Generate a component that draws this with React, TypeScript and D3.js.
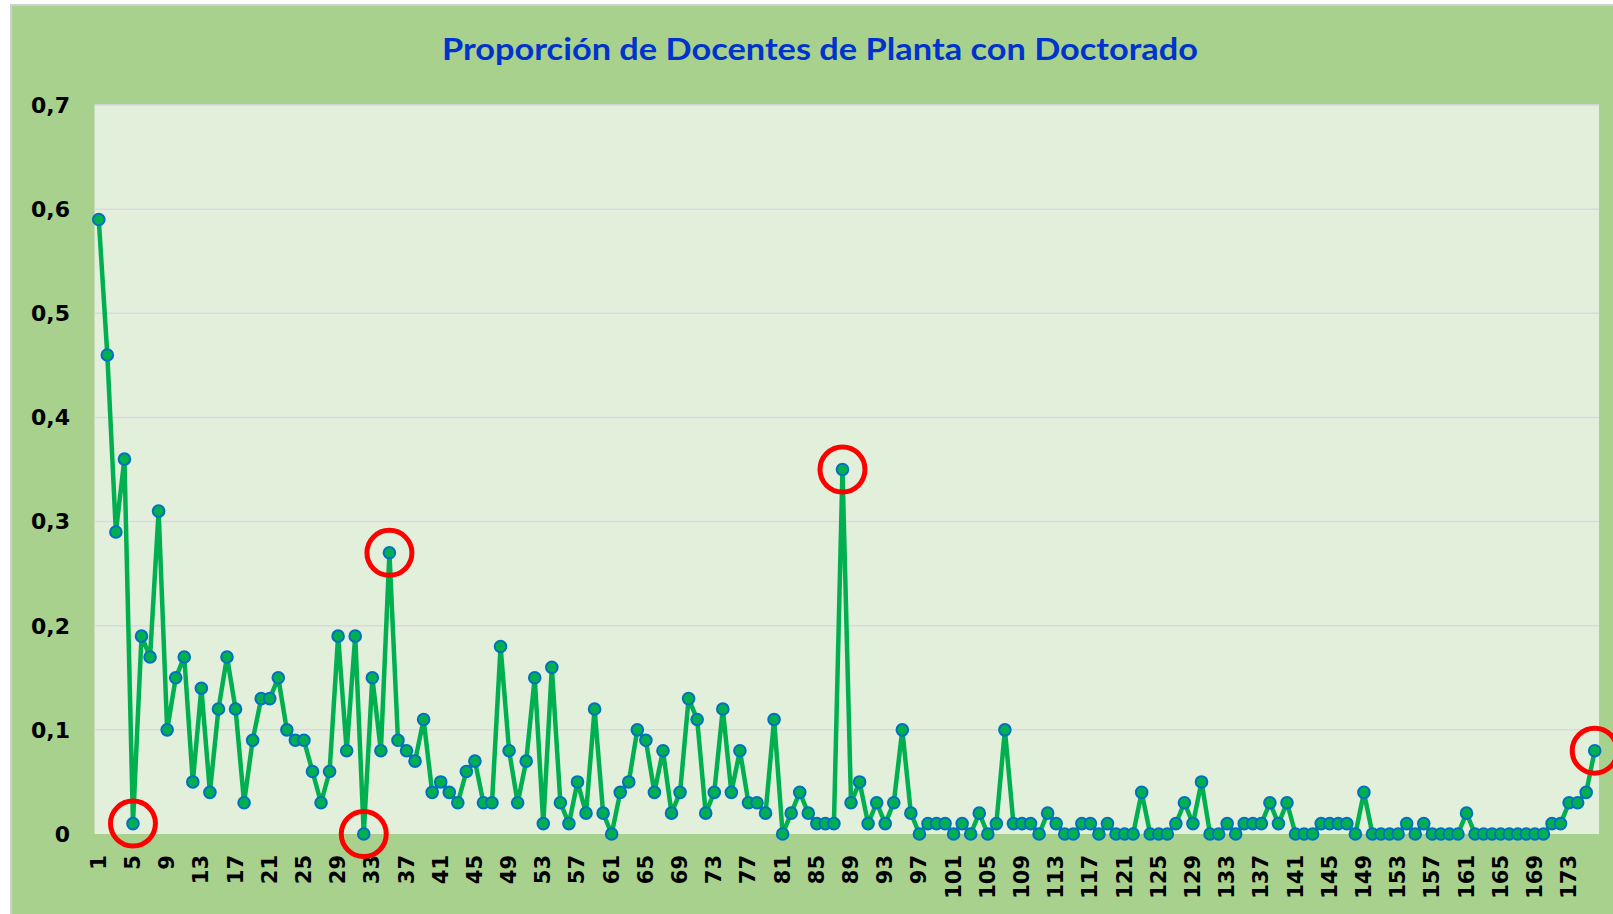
import React from "react";
import * as d3 from "d3";

const TITLE = "Proporción de Docentes de Planta con Doctorado";

const values: number[] = [
  0.59, 0.46, 0.29, 0.36, 0.01, 0.19, 0.17, 0.31, 0.10, 0.15,
  0.17, 0.05, 0.14, 0.04, 0.12, 0.17, 0.12, 0.03, 0.09, 0.13,
  0.13, 0.15, 0.10, 0.09, 0.09, 0.06, 0.03, 0.06, 0.19, 0.08,
  0.19, 0.00, 0.15, 0.08, 0.27, 0.09, 0.08, 0.07, 0.11, 0.04,
  0.05, 0.04, 0.03, 0.06, 0.07, 0.03, 0.03, 0.18, 0.08, 0.03,
  0.07, 0.15, 0.01, 0.16, 0.03, 0.01, 0.05, 0.02, 0.12, 0.02,
  0.00, 0.04, 0.05, 0.10, 0.09, 0.04, 0.08, 0.02, 0.04, 0.13,
  0.11, 0.02, 0.04, 0.12, 0.04, 0.08, 0.03, 0.03, 0.02, 0.11,
  0.00, 0.02, 0.04, 0.02, 0.01, 0.01, 0.01, 0.35, 0.03, 0.05,
  0.01, 0.03, 0.01, 0.03, 0.10, 0.02, 0.00, 0.01, 0.01, 0.01,
  0.00, 0.01, 0.00, 0.02, 0.00, 0.01, 0.10, 0.01, 0.01, 0.01,
  0.00, 0.02, 0.01, 0.00, 0.00, 0.01, 0.01, 0.00, 0.01, 0.00,
  0.00, 0.00, 0.04, 0.00, 0.00, 0.00, 0.01, 0.03, 0.01, 0.05,
  0.00, 0.00, 0.01, 0.00, 0.01, 0.01, 0.01, 0.03, 0.01, 0.03,
  0.00, 0.00, 0.00, 0.01, 0.01, 0.01, 0.01, 0.00, 0.04, 0.00,
  0.00, 0.00, 0.00, 0.01, 0.00, 0.01, 0.00, 0.00, 0.00, 0.00,
  0.02, 0.00, 0.00, 0.00, 0.00, 0.00, 0.00, 0.00, 0.00, 0.00,
  0.01, 0.01, 0.03, 0.03, 0.04, 0.08,
];

const categories: number[] = values.map((_, i) => i + 1);
const xTickLabels: number[] = categories.filter((c) => (c - 1) % 4 === 0);
const yTicks: number[] = [0, 0.1, 0.2, 0.3, 0.4, 0.5, 0.6, 0.7];
const highlighted: number[] = [5, 32, 35, 88, 176];

const W = 1613;
const H = 914;
const plot = { left: 94.5, right: 1599, top: 105, bottom: 834 };

export default function App() {
  const x = d3
    .scaleBand<number>()
    .domain(categories)
    .range([plot.left, plot.right]);
  const cx = (c: number) => (x(c) as number) + x.bandwidth() / 2;
  const y = d3.scaleLinear().domain([0, 0.7]).range([plot.bottom, plot.top]);
  const line = d3
    .line<number>()
    .x((_, i) => cx(categories[i]))
    .y((d) => y(d));
  const fmt = (v: number) => (v === 0 ? "0" : v.toFixed(1).replace(".", ","));

  return (
    <svg
      width={W}
      height={H}
      style={{ position: "absolute", left: 0, top: 0, display: "block" }}
    >
      <rect x={0} y={0} width={W} height={H} fill="#ffffff" />
      <rect x={10} y={4} width={W - 10} height={H - 4} fill="#d0d0d0" />
      <rect x={12} y={6} width={W - 12} height={H - 6} fill="#a9d18e" />
      <text
        x={820}
        y={60}
        textAnchor="middle"
        fontFamily="Lato, 'Open Sans', sans-serif"
        fontWeight="bold"
        fontSize={30}
        fill="#0033cc"
        textLength={756}
        lengthAdjust="spacingAndGlyphs"
      >
        {TITLE}
      </text>
      <rect
        x={plot.left}
        y={plot.top}
        width={plot.right - plot.left}
        height={plot.bottom - plot.top}
        fill="#e2efda"
      />
      {yTicks.map((t) =>
        t === 0 ? null : (
          <line
            key={"g" + t}
            x1={plot.left}
            x2={plot.right}
            y1={y(t)}
            y2={y(t)}
            stroke="#d9d9e6"
            strokeWidth={1.5}
          />
        )
      )}
      {yTicks.map((t) => (
        <text
          key={"y" + t}
          x={70}
          y={y(t)}
          dy="0.36em"
          textAnchor="end"
          fontFamily="'DejaVu Sans', sans-serif"
          fontWeight="bold"
          fontSize={22}
          fill="#000"
        >
          {fmt(t)}
        </text>
      ))}
      {xTickLabels.map((c) => (
        <text
          key={"x" + c}
          transform={`translate(${cx(c)},${855}) rotate(-90)`}
          textAnchor="end"
          dominantBaseline="central"
          fontFamily="'DejaVu Sans', sans-serif"
          fontWeight="bold"
          fontSize={21}
          fill="#000"
        >
          {c}
        </text>
      ))}
      <path
        d={line(values) || ""}
        fill="none"
        stroke="#00b050"
        strokeWidth={4.5}
        strokeLinejoin="round"
      />
      {values.map((v, i) => (
        <circle
          key={"p" + i}
          cx={cx(categories[i])}
          cy={y(v)}
          r={5.8}
          fill="#00b050"
          stroke="#0070c0"
          strokeWidth={2}
        />
      ))}
      {highlighted.map((c) => (
        <circle
          key={"h" + c}
          cx={cx(c)}
          cy={y(values[c - 1])}
          r={22.5}
          fill="none"
          stroke="#ff0000"
          strokeWidth={5}
        />
      ))}
    </svg>
  );
}
